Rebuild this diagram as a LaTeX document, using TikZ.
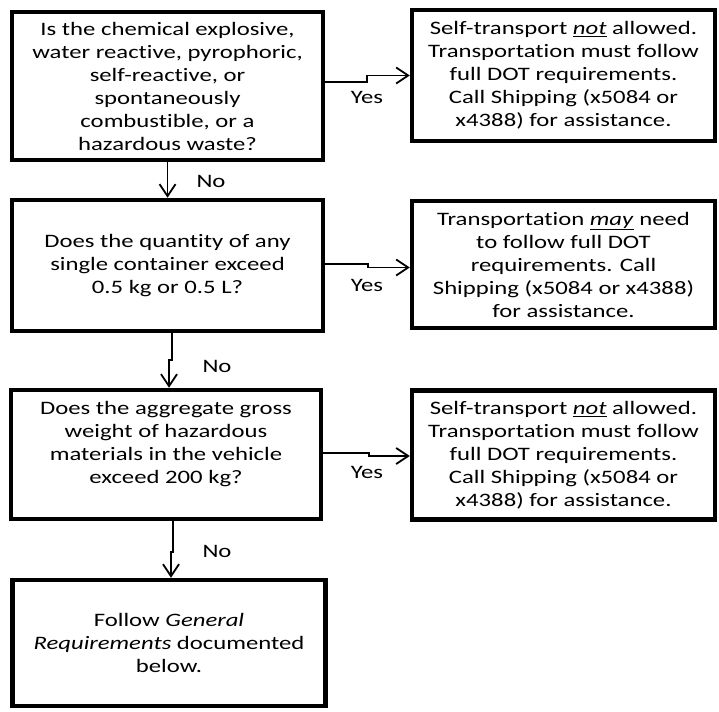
\documentclass[tikz,border=0pt]{standalone}
\usepackage{fontspec}
\setmainfont{Carlito}[FakeStretch=1.3, Ligatures={NoCommon}]
\usetikzlibrary{arrows.meta}
\begin{document}
\begin{tikzpicture}[x=1pt,y=-1pt]
\tikzset{
  box/.style={draw=black, line width=4.5pt, rectangle, inner sep=0pt, align=center,
              font=\fontsize{19}{23}\selectfont},
  txt/.style={inner sep=0pt, align=center, font=\fontsize{19}{23}\selectfont},
  lbl/.style={inner sep=0pt, font=\fontsize{19}{23}\selectfont},
  arr/.style={line width=1.8pt, -{Straight Barb[length=12pt,width=16pt]}},
}
\useasboundingbox (0,0) rectangle (719,711);
\fill[white] (0,0) rectangle (719,711);

% question boxes
\node[box, minimum width=311pt, minimum height=148pt] (q1) at (167.5,86)
  {Is the chemical explosive,\\ water reactive, pyrophoric,\\ self-reactive, or\\ spontaneously\\ combustible, or a\\ hazardous waste?};
\node[box, minimum width=311pt, minimum height=131pt] (q2) at (167.5,265.5)
  {Does the quantity of any\\ single container exceed\\ 0.5 kg or 0.5 L?};
\node[box, minimum width=310pt, minimum height=129pt] (q3) at (166,454.5) {};
\node[txt] (q3t) at (166,444.5)
  {Does the aggregate gross\\ weight of hazardous\\ materials in the vehicle\\ exceed 200 kg?};
\node[box, minimum width=313pt, minimum height=126pt] (q4) at (169,643)
  {Follow \textit{General}\\ \textit{Requirements} documented\\ below.};

% answer boxes
\node[box, minimum width=303pt, minimum height=131pt] (a1) at (563.5,75.5)
  {Self-transport \underline{\textit{not}} allowed.\\ Transportation must follow\\ full DOT requirements.\\ Call Shipping (x5084 or\\ x4388) for assistance.};
\node[box, minimum width=303pt, minimum height=127pt] (a2) at (563.5,264.5)
  {Transportation \underline{\textit{may}} need\\ to follow full DOT\\ requirements. Call\\ Shipping (x5084 or x4388)\\ for assistance.};
\node[box, minimum width=303pt, minimum height=129pt] (a3) at (563.5,455)
  {Self-transport \underline{\textit{not}} allowed.\\ Transportation must follow\\ full DOT requirements.\\ Call Shipping (x5084 or\\ x4388) for assistance.};

% Yes connectors
\draw[arr] ([yshift=4pt]q1.east) -- ++(42,0) |- (a1.west);
\draw[arr] ([yshift=1.5pt]q2.east) -- ++(43,0) |- ([yshift=-3pt]a2.west);
\draw[arr] ([yshift=1.5pt]q3.east) -- ++(46,0) |- ([yshift=-1pt]a3.west);

% No connectors
\draw[arr] (q1.south) -- (q2.north);
\draw[arr] ([xshift=4.5pt]q2.south) -- ++(0,27) -- ++(-3,0) -- ([xshift=3pt]q3.north);
\draw[arr] ([xshift=7pt]q3.south) -- ++(0,31) -- ++(-2,0) -- ([xshift=2pt]q4.north);

% labels
\node[lbl] (y1) at (367,97) {Yes};
\node[lbl] (y2) at (367,285) {Yes};
\node[lbl] (y3) at (367,472) {Yes};
\node[lbl] (n1) at (211,181) {No};
\node[lbl] (n2) at (217,366) {No};
\node[lbl] (n3) at (217,551) {No};
\end{tikzpicture}
\end{document}
